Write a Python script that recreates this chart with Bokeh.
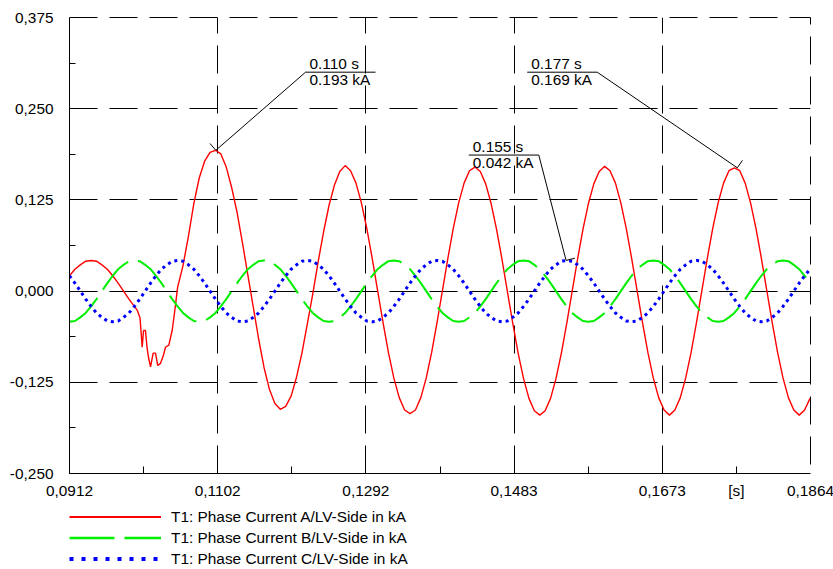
import math
from bokeh.plotting import figure
from bokeh.layouts import column
from bokeh.models import Range1d, FixedTicker, Legend, LegendItem
from bokeh.core.properties import value
from bokeh.embed import file_html
from bokeh.resources import INLINE

# ---------------- data ----------------
T_START = 0.0912          # first sample time [s]
T_STEP = 1 / 1440         # sampling step of the traces [s]
N_SAMPLES = 138

X_TICKS = [0.0912, 0.11024, 0.12928, 0.14832, 0.16736, 0.1864]
X_TICK_LABELS = ["0,0912", "0,1102", "0,1292", "0,1483", "0,1673", "0,1864"]
X_UNIT_TICK = 0.17688
X_UNIT_LABEL = "[s]"
Y_TICKS = [-0.25, -0.125, 0.0, 0.125, 0.25, 0.375]
Y_TICK_LABELS = ["-0,250", "-0,125", "0,000", "0,125", "0,250", "0,375"]

SERIES_NAMES = ["T1: Phase Current A/LV-Side in kA",
                "T1: Phase Current B/LV-Side in kA",
                "T1: Phase Current C/LV-Side in kA"]

# Phase A, before the fault (samples 0..12)
RED_PRE = [0.021, 0.030, 0.036, 0.041, 0.042, 0.041, 0.036, 0.030, 0.021, 0.011,
           0.000, -0.011, -0.021]
# Phase A, fault transient (irregular times)
RED_FAULT_T = [0.09990, 0.10026, 0.10041, 0.10054, 0.10071, 0.10096, 0.10116, 0.10135,
               0.10161, 0.10195, 0.10225, 0.10254, 0.10289, 0.10324, 0.10353, 0.10396,
               0.10439, 0.10469]
RED_FAULT_V = [-0.026, -0.037, -0.058, -0.077, -0.054, -0.054, -0.077, -0.091,
               -0.104, -0.085, -0.085, -0.102, -0.099, -0.089, -0.077, -0.074,
               -0.054, -0.030]
# Phase A, after the fault (samples 20..137)
RED_POST = [0.005, 0.035, 0.075, 0.120, 0.155, 0.178, 0.190, 0.193, 0.188, 0.170,
            0.142, 0.108, 0.066, 0.022, -0.022, -0.066, -0.105, -0.135, -0.154, -0.162,
            -0.158, -0.144, -0.118, -0.085, -0.045, -0.004, 0.040, 0.081, 0.117, 0.145,
            0.164,
            0.172, 0.165, 0.148, 0.121, 0.086, 0.045, 0.001, -0.043, -0.084, -0.119,
            -0.146, -0.163, -0.168, -0.163, -0.146, -0.119, -0.084, -0.043, 0.001, 0.045,
            0.086, 0.121, 0.148, 0.165,
            0.170, 0.164, 0.147, 0.120, 0.085, 0.044, 0.000, -0.044, -0.085, -0.120,
            -0.147, -0.164, -0.170, -0.164, -0.147, -0.120, -0.085, -0.044, 0.000, 0.044,
            0.085, 0.120, 0.147, 0.164,
            0.171, 0.165, 0.148, 0.121, 0.086, 0.045, 0.001, -0.043, -0.084, -0.119,
            -0.146, -0.163, -0.170, -0.163, -0.146, -0.119, -0.084, -0.043, 0.001, 0.045,
            0.086, 0.121, 0.148, 0.165,
            0.169, 0.165, 0.148, 0.121, 0.086, 0.045, 0.001, -0.043, -0.084, -0.119,
            -0.146, -0.163, -0.170, -0.163, -0.147]

GREEN = [-0.042, -0.041, -0.036, -0.030, -0.021, -0.011, 0.000, 0.011, 0.021, 0.030, 0.036, 0.041,
         0.042, 0.041, 0.036, 0.030, 0.021, 0.011, 0.000, -0.011, -0.021, -0.030, -0.036, -0.041,
         -0.042, -0.041, -0.036, -0.030, -0.021, -0.011, 0.000, 0.011, 0.021, 0.030, 0.036, 0.041,
         0.042, 0.041, 0.036, 0.030, 0.021, 0.011, 0.000, -0.011, -0.021, -0.030, -0.036, -0.041,
         -0.042, -0.041, -0.036, -0.030, -0.021, -0.011, 0.000, 0.011, 0.021, 0.030, 0.036, 0.041,
         0.042, 0.041, 0.036, 0.030, 0.021, 0.011, 0.000, -0.011, -0.021, -0.030, -0.036, -0.041,
         -0.042, -0.041, -0.036, -0.030, -0.021, -0.011, 0.000, 0.011, 0.021, 0.030, 0.036, 0.041,
         0.042, 0.041, 0.036, 0.030, 0.021, 0.011, 0.000, -0.011, -0.021, -0.030, -0.036, -0.041,
         -0.042, -0.041, -0.036, -0.030, -0.021, -0.011, 0.000, 0.011, 0.021, 0.030, 0.036, 0.041,
         0.042, 0.041, 0.036, 0.030, 0.021, 0.011, 0.000, -0.011, -0.021, -0.030, -0.036, -0.041,
         -0.042, -0.041, -0.036, -0.030, -0.021, -0.011, 0.000, 0.011, 0.021, 0.030, 0.036, 0.041,
         0.042, 0.041, 0.036, 0.030, 0.021, 0.011]

BLUE = [0.021, 0.011, 0.000, -0.011, -0.021, -0.030, -0.036, -0.041, -0.042, -0.041, -0.036, -0.030,
        -0.021, -0.011, 0.000, 0.011, 0.021, 0.030, 0.036, 0.041, 0.042, 0.041, 0.036, 0.030,
        0.021, 0.011, 0.000, -0.011, -0.021, -0.030, -0.036, -0.041, -0.042, -0.041, -0.036, -0.030,
        -0.021, -0.011, 0.000, 0.011, 0.021, 0.030, 0.036, 0.041, 0.042, 0.041, 0.036, 0.030,
        0.021, 0.011, 0.000, -0.011, -0.021, -0.030, -0.036, -0.041, -0.042, -0.041, -0.036, -0.030,
        -0.021, -0.011, 0.000, 0.011, 0.021, 0.030, 0.036, 0.041, 0.042, 0.041, 0.036, 0.030,
        0.021, 0.011, 0.000, -0.011, -0.021, -0.030, -0.036, -0.041, -0.042, -0.041, -0.036, -0.030,
        -0.021, -0.011, 0.000, 0.011, 0.021, 0.030, 0.036, 0.041, 0.042, 0.041, 0.036, 0.030,
        0.021, 0.011, 0.000, -0.011, -0.021, -0.030, -0.036, -0.041, -0.042, -0.041, -0.036, -0.030,
        -0.021, -0.011, 0.000, 0.011, 0.021, 0.030, 0.036, 0.041, 0.042, 0.041, 0.036, 0.030,
        0.021, 0.011, 0.000, -0.011, -0.021, -0.030, -0.036, -0.041, -0.042, -0.041, -0.036, -0.030,
        -0.021, -0.011, 0.000, 0.011, 0.021, 0.030]

# Marked points (time [s], value [kA])
ANN_T = [0.110, 0.155, 0.177]
ANN_V = [0.193, 0.042, 0.169]

# ---------------- assemble ----------------
grid_t = [round(T_START + k * T_STEP, 6) for k in range(N_SAMPLES)]
red_t = grid_t[:len(RED_PRE)] + RED_FAULT_T + grid_t[N_SAMPLES - len(RED_POST):]
red_v = RED_PRE + RED_FAULT_V + RED_POST
assert len(red_t) == len(red_v)
assert len(GREEN) == N_SAMPLES and len(BLUE) == N_SAMPLES

X0, X1 = X_TICKS[0], X_TICKS[-1]
Y0, Y1 = Y_TICKS[0], Y_TICKS[-1]

W = 833
LEG_H = 63
H = 569 - LEG_H
BL, BR, BT = 69, 23, 17
FW, FH = W - BL - BR, 456
BB = H - BT - FH
SX = FW / (X1 - X0)      # px per second
SY = FH / (Y1 - Y0)      # px per kA

FONT = "Liberation Sans"
FS = "15.4px"
DASH = "28 12"

p = figure(width=W, height=H, output_backend="svg", toolbar_location=None,
           x_range=Range1d(X0, X1), y_range=Range1d(Y0, Y1),
           min_border_left=BL, min_border_right=BR, min_border_top=BT, min_border_bottom=BB)
p.background_fill_color = "white"
p.border_fill_color = "white"
p.outline_line_color = "black"
p.outline_line_dash = DASH
p.outline_line_width = 1

# axes
x_minor = [(a + b) / 2 for a, b in zip(X_TICKS[:-1], X_TICKS[1:])]
y_minor = [(a + b) / 2 for a, b in zip(Y_TICKS[:-1], Y_TICKS[1:])]
p.xaxis.ticker = FixedTicker(ticks=X_TICKS + [X_UNIT_TICK], minor_ticks=x_minor)
overrides = {t: s for t, s in zip(X_TICKS, X_TICK_LABELS)}
overrides[X_UNIT_TICK] = X_UNIT_LABEL
p.xaxis.major_label_overrides = overrides
p.yaxis.ticker = FixedTicker(ticks=Y_TICKS, minor_ticks=y_minor)
p.yaxis.major_label_overrides = {t: s for t, s in zip(Y_TICKS, Y_TICK_LABELS)}

for ax in (p.xaxis[0], p.yaxis[0]):
    ax.axis_line_color = "black"
    ax.axis_line_width = 1
    ax.major_tick_in = 0
    ax.major_tick_out = 0
    ax.minor_tick_out = 0
    ax.minor_tick_line_color = "black"
    ax.major_label_text_font = FONT
    ax.major_label_text_font_size = FS
    ax.major_label_text_color = "black"
p.xaxis.minor_tick_in = 7
p.yaxis.minor_tick_in = 6
p.xaxis.major_label_standoff = 8
p.yaxis.major_label_standoff = 16

# grids (inner lines; top/right border is the dashed outline)
p.xgrid.ticker = FixedTicker(ticks=X_TICKS[1:-1])
p.ygrid.ticker = FixedTicker(ticks=Y_TICKS[1:-1])
for g in (p.xgrid[0], p.ygrid[0]):
    g.grid_line_color = "black"
    g.grid_line_dash = DASH
    g.grid_line_width = 1
    g.grid_line_alpha = 1.0

# trace styles (plot) and their legend keys
COLORS = ["#ff0000", "#00ee00", "#0000ff"]
STYLES = [dict(line_color=COLORS[0], line_width=1.4),
          dict(line_color=COLORS[1], line_width=2, line_dash="38 10"),
          dict(line_color=COLORS[2], line_width=3, line_dash="3 4")]
KEY_STYLES = [dict(line_color=COLORS[0], line_width=2),
              dict(line_color=COLORS[1], line_width=2.5, line_dash="45 10"),
              dict(line_color=COLORS[2], line_width=4, line_dash="4 8")]

p.line(red_t, red_v, **STYLES[0])
p.line(grid_t, GREEN, **STYLES[1])
p.line(grid_t, BLUE, **STYLES[2])

# callouts
ATTACH_PX = [(89.7, -78.1), (-27.3, -105.4), (-140.1, -95.6)]  # underline end, px from point
ATTACH_END = ["left", "right", "right"]
UNDER_PX = 70
BARB_PX = 9
seg_x0, seg_y0, seg_x1, seg_y1 = [], [], [], []
txt_x, txt_y, txt_top, txt_bot = [], [], [], []
for t, v, (dx, dy), end in zip(ANN_T, ANN_V, ATTACH_PX, ATTACH_END):
    at, av = t + dx / SX, v - dy / SY
    ul = at if end == "left" else at - UNDER_PX / SX
    ur = ul + UNDER_PX / SX
    seg_x0 += [t]; seg_y0 += [v]; seg_x1 += [at]; seg_y1 += [av]          # leader
    seg_x0 += [ul]; seg_y0 += [av]; seg_x1 += [ur]; seg_y1 += [av]         # underline
    L = math.hypot(dx, dy)
    px, py = -dy / L, dx / L
    if py > 0:
        px, py = -px, -py
    seg_x0 += [t]; seg_y0 += [v]
    seg_x1 += [t + BARB_PX * px / SX]; seg_y1 += [v - BARB_PX * py / SY]   # barb
    txt_x.append(ul); txt_y.append(av)
    txt_top.append(f"{t:.3f} s"); txt_bot.append(f"{v:.3f} kA")

p.segment(seg_x0, seg_y0, seg_x1, seg_y1, line_color="black", line_width=1)
p.text(txt_x, txt_y, text=txt_top, x_offset=4, y_offset=-8.7,
       text_font=value(FONT), text_font_size=FS, text_color="black",
       text_align="left", text_baseline="middle")
p.text(txt_x, txt_y, text=txt_bot, x_offset=4, y_offset=7.5,
       text_font=value(FONT), text_font_size=FS, text_color="black",
       text_align="left", text_baseline="middle")

# legend strip below the plot (its frame is aligned with the plot frame)
q = figure(width=W, height=LEG_H, output_backend="svg", toolbar_location=None,
           x_range=Range1d(0, 1), y_range=Range1d(0, 1),
           x_axis_type=None, y_axis_type=None,
           min_border_left=BL, min_border_right=BR, min_border_top=0, min_border_bottom=0)
q.outline_line_color = None
q.background_fill_color = "white"
q.border_fill_color = "white"
q.grid.visible = False
# key renderers: lie outside the visible range, only their legend swatches show
keys = [q.line([-3, -2], [-3, -2], **s) for s in KEY_STYLES]
legend = Legend(items=[LegendItem(label=n, renderers=[r]) for n, r in zip(SERIES_NAMES, keys)],
                location=(0, 0), orientation="vertical",
                glyph_width=92, glyph_height=21, label_height=21, spacing=0,
                padding=0, margin=0, label_standoff=10,
                border_line_color=None, background_fill_alpha=0,
                label_text_font=FONT, label_text_font_size=FS, label_text_color="black")
q.add_layout(legend)

layout = column(p, q, spacing=0)
open("out.html", "w").write(file_html(layout, INLINE))
